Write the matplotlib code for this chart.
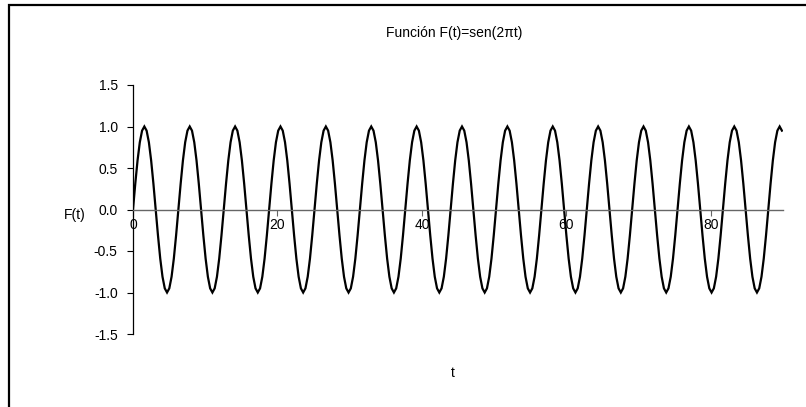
import matplotlib
matplotlib.use("Agg")
import matplotlib.pyplot as plt
from matplotlib.patches import Rectangle
import numpy as np

plt.rcParams["font.family"] = ["Liberation Sans", "DejaVu Sans"]
plt.rcParams["axes.unicode_minus"] = False

# F(t), 20 samples per cycle
f_vals = [
    0, 0.31, 0.59, 0.81, 0.95, 1, 0.95, 0.81, 0.59, 0.31, 0, -0.31, -0.59, -0.81, -0.95, -1, -0.95, -0.81, -0.59, -0.31,
    0, 0.31, 0.59, 0.81, 0.95, 1, 0.95, 0.81, 0.59, 0.31, 0, -0.31, -0.59, -0.81, -0.95, -1, -0.95, -0.81, -0.59, -0.31,
    0, 0.31, 0.59, 0.81, 0.95, 1, 0.95, 0.81, 0.59, 0.31, 0, -0.31, -0.59, -0.81, -0.95, -1, -0.95, -0.81, -0.59, -0.31,
    0, 0.31, 0.59, 0.81, 0.95, 1, 0.95, 0.81, 0.59, 0.31, 0, -0.31, -0.59, -0.81, -0.95, -1, -0.95, -0.81, -0.59, -0.31,
    0, 0.31, 0.59, 0.81, 0.95, 1, 0.95, 0.81, 0.59, 0.31, 0, -0.31, -0.59, -0.81, -0.95, -1, -0.95, -0.81, -0.59, -0.31,
    0, 0.31, 0.59, 0.81, 0.95, 1, 0.95, 0.81, 0.59, 0.31, 0, -0.31, -0.59, -0.81, -0.95, -1, -0.95, -0.81, -0.59, -0.31,
    0, 0.31, 0.59, 0.81, 0.95, 1, 0.95, 0.81, 0.59, 0.31, 0, -0.31, -0.59, -0.81, -0.95, -1, -0.95, -0.81, -0.59, -0.31,
    0, 0.31, 0.59, 0.81, 0.95, 1, 0.95, 0.81, 0.59, 0.31, 0, -0.31, -0.59, -0.81, -0.95, -1, -0.95, -0.81, -0.59, -0.31,
    0, 0.31, 0.59, 0.81, 0.95, 1, 0.95, 0.81, 0.59, 0.31, 0, -0.31, -0.59, -0.81, -0.95, -1, -0.95, -0.81, -0.59, -0.31,
    0, 0.31, 0.59, 0.81, 0.95, 1, 0.95, 0.81, 0.59, 0.31, 0, -0.31, -0.59, -0.81, -0.95, -1, -0.95, -0.81, -0.59, -0.31,
    0, 0.31, 0.59, 0.81, 0.95, 1, 0.95, 0.81, 0.59, 0.31, 0, -0.31, -0.59, -0.81, -0.95, -1, -0.95, -0.81, -0.59, -0.31,
    0, 0.31, 0.59, 0.81, 0.95, 1, 0.95, 0.81, 0.59, 0.31, 0, -0.31, -0.59, -0.81, -0.95, -1, -0.95, -0.81, -0.59, -0.31,
    0, 0.31, 0.59, 0.81, 0.95, 1, 0.95, 0.81, 0.59, 0.31, 0, -0.31, -0.59, -0.81, -0.95, -1, -0.95, -0.81, -0.59, -0.31,
    0, 0.31, 0.59, 0.81, 0.95, 1, 0.95, 0.81, 0.59, 0.31, 0, -0.31, -0.59, -0.81, -0.95, -1, -0.95, -0.81, -0.59, -0.31,
    0, 0.31, 0.59, 0.81, 0.95, 1, 0.95,
]
x_step = np.pi / 10
x_ticks = [0, 20, 40, 60, 80]
y_ticks = [-1.5, -1.0, -0.5, 0.0, 0.5, 1.0, 1.5]

x = np.arange(len(f_vals)) * x_step

fig = plt.figure(figsize=(8.06, 4.07), dpi=100)
ax = fig.add_axes([133 / 806, 73 / 407, 650 / 806, 249 / 407])

ax.plot(x, f_vals, color="black", lw=1.6, solid_joinstyle="miter")

ax.set_xlim(0, 90)
ax.set_ylim(-1.5, 1.5)

ax.spines["top"].set_visible(False)
ax.spines["right"].set_visible(False)
ax.spines["left"].set_color("black")
ax.spines["left"].set_linewidth(0.9)
ax.spines["bottom"].set_position(("data", 0))
ax.spines["bottom"].set_color("#666666")
ax.spines["bottom"].set_linewidth(1.0)

ax.set_xticks(x_ticks)
ax.set_xticklabels([str(v) for v in x_ticks])
ax.set_yticks(y_ticks)
ax.set_yticklabels([f"{v:.1f}" for v in y_ticks])
ax.tick_params(axis="y", direction="out", length=4, width=0.8, pad=7, labelsize=10)
ax.tick_params(axis="x", direction="out", length=4, width=0.8, color="#666666", pad=2, labelsize=10)

fig.text(454 / 806, 1 - 33 / 407, "Función F(t)=sen(2πt)", ha="center", va="center", fontsize=10)
fig.text(75 / 806, 1 - 215 / 407, "F(t)", ha="center", va="center", fontsize=10)
fig.text(453 / 806, 1 - 373 / 407, "t", ha="center", va="center", fontsize=10)

fig.add_artist(Rectangle((9 / 806, -0.1), 1.2, 1.1 - 5 / 407, transform=fig.transFigure,
                         fill=False, lw=1.6, ec="black"))

fig.savefig("out.png", dpi=100)
